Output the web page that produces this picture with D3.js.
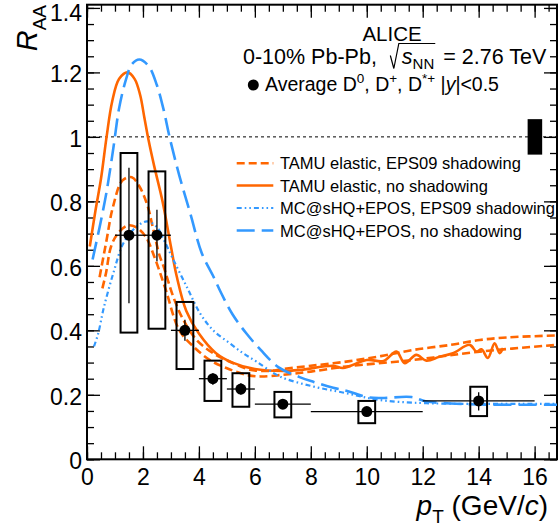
<!DOCTYPE html>
<html>
<head>
<meta charset="utf-8">
<script src="https://cdn.jsdelivr.net/npm/d3@7"></script>
<style>
  html, body { margin: 0; padding: 0; background: #fff; }
  svg { display: block; font-family: "Liberation Sans", Arial, Helvetica, sans-serif; }
</style>
</head>
<body>
<svg id="chart" width="559" height="529"></svg>
<script>
// ---- data points (average D0, D+, D*+) ----
const ptCenter = [1.5, 2.5, 3.5, 4.5, 5.5, 7, 10, 14];
const ptLow    = [1, 2, 3, 4, 5, 6, 8, 12];
const ptHigh   = [2, 3, 4, 5, 6, 8, 12, 16];
const raaValue = [0.695, 0.695, 0.40, 0.25, 0.218, 0.171, 0.148, 0.181];
const statLow  = [0.484, 0.614, 0.368, 0.231, 0.200, 0.160, 0.137, 0.151];
const statHigh = [0.904, 0.774, 0.433, 0.267, 0.236, 0.182, 0.159, 0.208];
const systLow  = [0.393, 0.405, 0.280, 0.181, 0.163, 0.130, 0.112, 0.134];
const systHigh = [0.950, 0.893, 0.488, 0.306, 0.267, 0.209, 0.181, 0.225];
const systHalfWidth = 0.3;
const normBoxX = [15.75, 16.27];
const normBoxY = [0.945, 1.055];

// ---- model curves ----
const tamuNoShadowPt  = [0.1, 0.3, 0.5, 0.7, 0.9, 1.15, 1.45, 1.7, 1.9, 2.05, 2.2, 2.4, 2.7, 3.0, 3.2, 3.55, 4.0, 4.6, 5.2, 6.0, 7.0, 7.6, 8.8, 9.15, 10.0, 10.6, 11.06, 11.36, 11.77, 12.13, 12.6, 13.08, 13.68, 13.92, 14.1, 14.33, 14.57, 14.75, 14.87];
const tamuNoShadowRaa = [0.66, 0.77, 0.87, 1.0, 1.11, 1.18, 1.20, 1.18, 1.13, 1.06, 0.99, 0.91, 0.80, 0.66, 0.57, 0.46, 0.39, 0.33, 0.30, 0.28, 0.274, 0.277, 0.29, 0.283, 0.308, 0.305, 0.334, 0.298, 0.324, 0.306, 0.318, 0.329, 0.355, 0.334, 0.341, 0.314, 0.36, 0.329, 0.345];

const tamuShadowUpPt  = [0.45, 0.7, 0.92, 1.27, 1.6, 1.87, 2.17, 2.35, 2.6, 2.73, 3.08, 3.44, 3.92, 4.51, 5.23, 5.82, 6.5, 7.0, 8.0, 9.27, 10.5, 11.65, 13.0, 14.04, 15.0, 16.8];
const tamuShadowUpRaa = [0.565, 0.68, 0.78, 0.865, 0.875, 0.847, 0.785, 0.72, 0.63, 0.60, 0.505, 0.433, 0.37, 0.329, 0.298, 0.278, 0.274, 0.28, 0.29, 0.303, 0.32, 0.339, 0.355, 0.37, 0.378, 0.384];

const tamuShadowLowPt  = [0.55, 0.68, 0.86, 1.1, 1.45, 1.75, 2.1, 2.4, 2.8, 3.3, 3.8, 4.39, 4.98, 5.7, 6.2, 7.0, 8.0, 9.27, 11.65, 14.04, 16.8];
const tamuShadowLowRaa = [0.53, 0.578, 0.66, 0.70, 0.725, 0.72, 0.69, 0.63, 0.53, 0.40, 0.35, 0.308, 0.283, 0.262, 0.257, 0.262, 0.272, 0.288, 0.308, 0.334, 0.355];

const mcNoShadowPt  = [0.2, 0.45, 0.7, 0.95, 1.15, 1.4, 1.6, 1.87, 2.2, 2.5, 2.75, 2.95, 3.3, 3.7, 4.1, 4.5, 4.8, 5.2, 5.7, 6.2, 6.85, 7.6, 8.1, 8.8, 9.3, 10.0, 10.5, 11.6, 12.1, 13.0, 14.0, 16.8];
const mcNoShadowRaa = [0.62, 0.72, 0.83, 0.97, 1.09, 1.18, 1.225, 1.24, 1.22, 1.16, 1.08, 1.0, 0.88, 0.76, 0.64, 0.57, 0.515, 0.45, 0.39, 0.34, 0.285, 0.255, 0.24, 0.222, 0.212, 0.193, 0.19, 0.193, 0.18, 0.173, 0.17, 0.169];

const mcShadowPt  = [0.25, 0.4, 0.6, 0.95, 1.3, 1.75, 2.15, 2.5, 2.75, 3.08, 3.56, 4.04, 4.51, 5.1, 5.58, 6.06, 6.89, 8.08, 9.27, 10.46, 12.13, 16.8];
const mcShadowRaa = [0.35, 0.39, 0.47, 0.58, 0.67, 0.72, 0.738, 0.72, 0.68, 0.62, 0.536, 0.453, 0.40, 0.36, 0.329, 0.303, 0.257, 0.226, 0.205, 0.184, 0.174, 0.172];

const legendLabels = ["TAMU elastic, EPS09 shadowing", "TAMU elastic, no shadowing",
                      "MC@sHQ+EPOS, EPS09 shadowing", "MC@sHQ+EPOS, no shadowing"];
const xTicks = [0, 2, 4, 6, 8, 10, 12, 14, 16];
const yTicks = [0, 0.2, 0.4, 0.6, 0.8, 1, 1.2, 1.4];

const orange = "#ff6600", blue = "#3399ff";
const styles = [
  {color: orange, dash: "8,4", width: 2.6},
  {color: orange, dash: null, width: 2.6},
  {color: blue, dash: "5,3,1.6,3,1.6,3", width: 2.2},
  {color: blue, dash: "18,7", width: 2.6}
];

const svg = d3.select("#chart");
const x = d3.scaleLinear().domain([0, 16.8]).range([87, 557]);
const y = d3.scaleLinear().domain([0, 1.41]).range([459.3, 4.7]);
const plotLeft = x.range()[0], plotRight = x.range()[1], plotTop = y.range()[1], plotBottom = y.range()[0];

svg.append("defs").append("clipPath").attr("id", "plotclip")
  .append("rect").attr("x", plotLeft).attr("y", plotTop).attr("width", plotRight - plotLeft).attr("height", plotBottom - plotTop);

// ---- axes (ROOT style, ticks inward on all four sides) ----
const minorX = d3.range(0, 16.81, 0.5), minorY = d3.range(0, 1.41, 0.05);
function styleAxis(g) {
  g.select(".domain").remove();
  g.selectAll(".tick line").attr("stroke", "#000").attr("stroke-width", 1.3);
  g.selectAll("text").attr("fill", "#000").attr("font-size", 23);
}
svg.append("g").attr("transform", `translate(0,${plotBottom})`)
  .call(d3.axisBottom(x).tickValues(minorX).tickSize(-7).tickFormat("")).call(styleAxis);
svg.append("g").attr("transform", `translate(0,${plotBottom})`)
  .call(d3.axisBottom(x).tickValues(xTicks).tickSize(-13).tickPadding(9).tickFormat(d3.format("d"))).call(styleAxis);
svg.append("g").attr("transform", `translate(0,${plotTop})`)
  .call(d3.axisTop(x).tickValues(minorX).tickSize(-7).tickFormat("")).call(styleAxis);
svg.append("g").attr("transform", `translate(0,${plotTop})`)
  .call(d3.axisTop(x).tickValues(xTicks).tickSize(-13).tickFormat("")).call(styleAxis);
svg.append("g").attr("transform", `translate(${plotLeft},0)`)
  .call(d3.axisLeft(y).tickValues(minorY).tickSize(-7).tickFormat("")).call(styleAxis);
svg.append("g").attr("transform", `translate(${plotLeft},0)`)
  .call(d3.axisLeft(y).tickValues(yTicks).tickSize(-13).tickPadding(5).tickFormat(d => d === 0 || d === 1 ? d3.format("d")(d) : d3.format(".1f")(d)))
  .call(styleAxis)
  .call(g => g.selectAll(".tick text").attr("y", d => d === 1.4 ? 5 : 2));
svg.append("g").attr("transform", `translate(${plotRight},0)`)
  .call(d3.axisRight(y).tickValues(minorY).tickSize(-7).tickFormat("")).call(styleAxis);
svg.append("g").attr("transform", `translate(${plotRight},0)`)
  .call(d3.axisRight(y).tickValues(yTicks).tickSize(-13).tickFormat("")).call(styleAxis);

svg.append("rect").attr("x", plotLeft).attr("y", plotTop).attr("width", plotRight - plotLeft).attr("height", plotBottom - plotTop)
  .attr("fill", "none").attr("stroke", "#000").attr("stroke-width", 2);

// axis titles
const xt = svg.append("text").attr("x", 548).attr("y", 515).attr("text-anchor", "end").attr("font-size", 28);
xt.append("tspan").attr("font-style", "italic").text("p");
xt.append("tspan").attr("font-size", 19).attr("dy", 8).text("T");
xt.append("tspan").attr("dy", -8).text(" (GeV/");
xt.append("tspan").attr("font-style", "italic").text("c");
xt.append("tspan").text(")");

const yt = svg.append("text").attr("transform", "translate(37,5) rotate(-90)").attr("text-anchor", "end").attr("font-size", 29);
yt.append("tspan").attr("font-style", "italic").text("R");
yt.append("tspan").attr("font-size", 19).attr("dy", 9).text("AA");

// reference line at 1
svg.append("line").attr("x1", plotLeft).attr("x2", plotRight).attr("y1", y(1)).attr("y2", y(1))
  .attr("stroke", "#000").attr("stroke-width", 1).attr("stroke-dasharray", "3,3");

// ---- model curves ----
const plot = svg.append("g").attr("clip-path", "url(#plotclip)");
const line = d3.line().x(d => x(d[0])).y(d => y(d[1])).curve(d3.curveCatmullRom.alpha(0.5));
const curves = [
  [d3.zip(tamuShadowUpPt, tamuShadowUpRaa), d3.zip(tamuShadowLowPt, tamuShadowLowRaa)],
  [d3.zip(tamuNoShadowPt, tamuNoShadowRaa)],
  [d3.zip(mcShadowPt, mcShadowRaa)],
  [d3.zip(mcNoShadowPt, mcNoShadowRaa)]
];
curves.forEach((set, i) => {
  set.forEach(pts => {
    plot.append("path").attr("d", line(pts)).attr("fill", "none")
      .attr("stroke", styles[i].color).attr("stroke-width", styles[i].width)
      .attr("stroke-dasharray", styles[i].dash);
  });
});

// ---- data: syst boxes, stat bars, markers ----
const marks = svg.append("g");
ptCenter.forEach((p, i) => {
  marks.append("rect").attr("x", x(p - systHalfWidth)).attr("y", y(systHigh[i]))
    .attr("width", x(p + systHalfWidth) - x(p - systHalfWidth)).attr("height", y(systLow[i]) - y(systHigh[i]))
    .attr("fill", "none").attr("stroke", "#000").attr("stroke-width", 2);
  marks.append("line").attr("x1", x(ptLow[i])).attr("x2", x(ptHigh[i])).attr("y1", y(raaValue[i])).attr("y2", y(raaValue[i]))
    .attr("stroke", "#000").attr("stroke-width", 1.3);
  marks.append("line").attr("x1", x(p)).attr("x2", x(p)).attr("y1", y(statLow[i])).attr("y2", y(statHigh[i]))
    .attr("stroke", "#000").attr("stroke-width", 1.3);
  marks.append("circle").attr("cx", x(p)).attr("cy", y(raaValue[i])).attr("r", 5.5).attr("fill", "#000");
});

// normalisation uncertainty
svg.append("rect").attr("x", x(normBoxX[0])).attr("y", y(normBoxY[1]))
  .attr("width", x(normBoxX[1]) - x(normBoxX[0])).attr("height", y(normBoxY[0]) - y(normBoxY[1])).attr("fill", "#000");

// ---- header text ----
svg.append("text").attr("x", 392).attr("y", 41).attr("text-anchor", "middle").attr("font-size", 20.5).text("ALICE");

const l2x = 243, l2b = 63.5;
const l2 = svg.append("text").attr("x", l2x).attr("y", l2b).attr("font-size", 21.5);
const l2a = l2.append("tspan").text("0-10% Pb-Pb, ");
const l2s = l2.append("tspan").attr("dx", 19).attr("font-style", "italic").text("s");
const l2n = l2.append("tspan").attr("font-size", 15).attr("dy", 5).text("NN");
l2.append("tspan").attr("dy", -5).attr("dx", 3).text(" = 2.76 TeV");
{
  const sx = l2x + l2a.node().getComputedTextLength() + 19;
  const ex = sx + l2s.node().getComputedTextLength() + l2n.node().getComputedTextLength() + 1;
  svg.append("path").attr("d", `M${sx - 11.5},${l2b - 8} L${sx - 8},${l2b + 5} L${sx - 3},${l2b - 20} L${ex},${l2b - 20}`)
    .attr("fill", "none").attr("stroke", "#000").attr("stroke-width", 1.2);
}

svg.append("circle").attr("cx", 253.3).attr("cy", 85).attr("r", 5.5).attr("fill", "#000");
const l3 = svg.append("text").attr("x", 265).attr("y", 91).attr("font-size", 19.5);
l3.append("tspan").text("Average D");
l3.append("tspan").attr("font-size", 13.5).attr("dy", -8).text("0");
l3.append("tspan").attr("dy", 8).text(", D");
l3.append("tspan").attr("font-size", 13.5).attr("dy", -8).text("+");
l3.append("tspan").attr("dy", 8).text(", D");
l3.append("tspan").attr("font-size", 13.5).attr("dy", -8).text("*+");
l3.append("tspan").attr("dy", 8).text(" |");
l3.append("tspan").attr("font-style", "italic").text("y");
l3.append("tspan").text("|<0.5");

// ---- legend ----
const legendY = [163.3, 185.5, 208, 230.5];
legendLabels.forEach((lab, i) => {
  svg.append("line").attr("x1", 236.7).attr("x2", 273.3).attr("y1", legendY[i]).attr("y2", legendY[i])
    .attr("stroke", styles[i].color).attr("stroke-width", styles[i].width).attr("stroke-dasharray", styles[i].dash);
  svg.append("text").attr("x", 280).attr("y", legendY[i] + 6).attr("font-size", 16.5).text(lab);
});
</script>
</body>
</html>
